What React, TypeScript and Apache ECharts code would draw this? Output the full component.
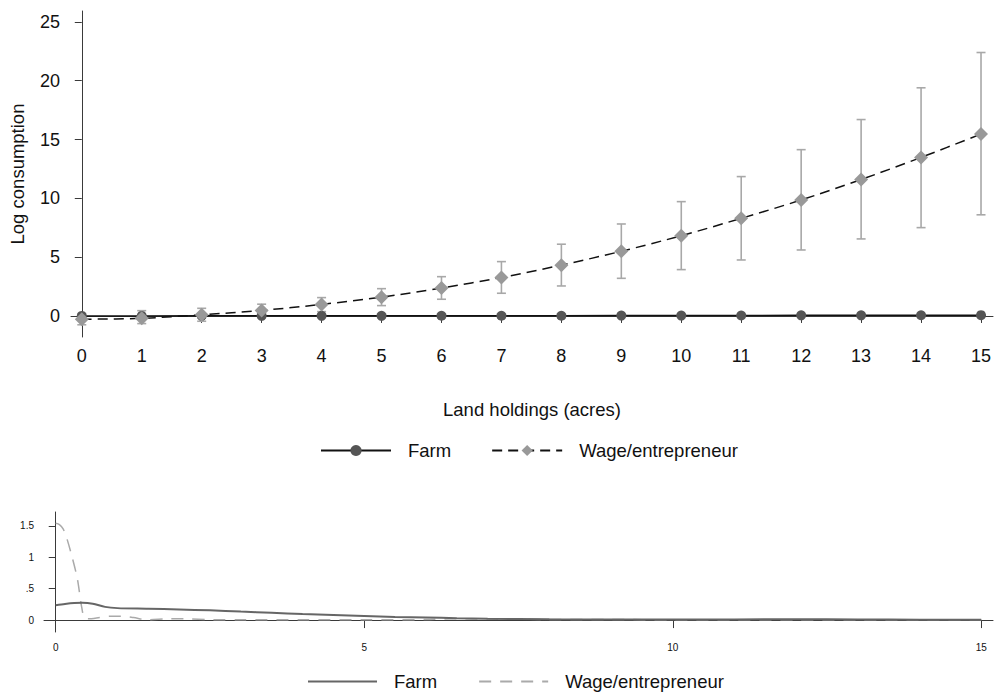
import React, { useEffect, useRef } from "react";
import * as echarts from "echarts";

const FONT = '"Liberation Sans", Arial, Helvetica, sans-serif';

// Top panel: marginal effects by land holdings
const acres = [0, 1, 2, 3, 4, 5, 6, 7, 8, 9, 10, 11, 12, 13, 14, 15];
const farmEffect = [0, 0, 0.01, 0.01, 0.01, 0.01, 0.02, 0.02, 0.02, 0.03, 0.03, 0.04, 0.05, 0.05, 0.06, 0.07];
const wageEffect = [-0.28, -0.2, 0.1, 0.47, 0.98, 1.6, 2.38, 3.27, 4.32, 5.5, 6.82, 8.3, 9.86, 11.6, 13.48, 15.47];
const wageLower = [-0.75, -0.65, -0.45, -0.05, 0.37, 0.88, 1.42, 1.93, 2.55, 3.2, 3.94, 4.76, 5.61, 6.55, 7.51, 8.6];
const wageUpper = [0.2, 0.45, 0.65, 1.0, 1.56, 2.32, 3.34, 4.62, 6.1, 7.82, 9.72, 11.85, 14.14, 16.7, 19.4, 22.4];
const yTicksTop = [0, 5, 10, 15, 20, 25];

// Bottom panel: densities of land holdings
const farmDensX = [0, 0.15, 0.3, 0.43, 0.6, 0.8, 1.0, 1.5, 2.0, 2.5, 3.0, 3.5, 4.0, 4.5, 5.0, 5.5, 6.0, 6.5, 7.0, 8.0, 9.0, 10.0, 11.0, 12.0, 13.0, 14.0, 15.0];
const farmDensY = [0.235, 0.255, 0.27, 0.275, 0.26, 0.21, 0.19, 0.18, 0.168, 0.155, 0.135, 0.115, 0.095, 0.08, 0.065, 0.05, 0.04, 0.03, 0.022, 0.012, 0.008, 0.008, 0.01, 0.012, 0.01, 0.006, 0.005];
const wageDensX = [0, 0.06, 0.12, 0.17, 0.25, 0.35, 0.42, 0.47, 0.55, 0.88, 1.09, 1.26, 1.48, 1.85, 2.07, 2.55, 3.0, 4.0, 5.0, 6.0, 6.5, 7.0, 8.0, 9.0, 10.0, 11.0, 12.0, 13.0, 14.0, 15.0];
const wageDensY = [1.54, 1.52, 1.45, 1.33, 1.06, 0.66, 0.21, 0.03, 0.02, 0.06, 0.06, 0.04, 0.005, 0.02, 0.02, 0.005, 0.004, 0.004, 0.004, 0.008, 0.02, 0.015, 0.01, 0.008, 0.006, 0.006, 0.006, 0.005, 0.005, 0.005];
const yTicksBottom = [0, 0.5, 1, 1.5];
const xTicksBottom = [0, 5, 10, 15];

const AXIS_COLOR = "#3a3a3a";

function topOption(): any {
  const farmData = acres.map((a, i) => [a, farmEffect[i]]);
  const wageData = acres.map((a, i) => [a, wageEffect[i]]);
  const ciData = acres.map((a, i) => [a, wageLower[i], wageUpper[i]]);
  return {
    animation: false,
    textStyle: { fontFamily: FONT },
    grid: { left: 71, right: 2, top: 11, bottom: 143 },
    legend: {
      data: ["Farm", "Wage/entrepreneur"],
      left: 315,
      top: 436,
      itemWidth: 70,
      itemHeight: 14,
      itemGap: 40,
      textStyle: { fontFamily: FONT, fontSize: 18.5, color: "#111", padding: [0, 0, 0, 12] },
    },
    xAxis: {
      type: "value",
      min: -0.18,
      max: 15.2,
      name: "Land holdings (acres)",
      nameLocation: "middle",
      nameGap: 63,
      nameTextStyle: { fontFamily: FONT, fontSize: 18.5, color: "#111" },
      axisLine: { lineStyle: { color: AXIS_COLOR, width: 1 } },
      axisTick: { length: 7, lineStyle: { color: AXIS_COLOR }, customValues: acres },
      axisLabel: { fontSize: 18, color: "#111", margin: 10, customValues: acres, fontFamily: FONT },
      splitLine: { show: false },
    },
    yAxis: {
      type: "value",
      min: -1.79,
      max: 25.93,
      name: "Log consumption",
      nameLocation: "middle",
      nameGap: 44,
      nameTextStyle: { fontFamily: FONT, fontSize: 18.5, color: "#111" },
      axisLine: { show: true, lineStyle: { color: AXIS_COLOR, width: 1 } },
      axisTick: { show: true, length: 7, lineStyle: { color: AXIS_COLOR }, customValues: yTicksTop },
      axisLabel: { fontSize: 18, color: "#111", margin: 11, customValues: yTicksTop, fontFamily: FONT },
      splitLine: { show: false },
    },
    series: [
      {
        name: "CI",
        type: "custom",
        z: 2,
        data: ciData,
        renderItem: (params: any, api: any) => {
          const x = api.value(0);
          const lo = api.coord([x, api.value(1)]);
          const hi = api.coord([x, api.value(2)]);
          const hw = 4.5;
          const style = { stroke: "#a8a8a8", lineWidth: 1.6 };
          return {
            type: "group",
            children: [
              { type: "line", shape: { x1: lo[0], y1: lo[1], x2: hi[0], y2: hi[1] }, style },
              { type: "line", shape: { x1: hi[0] - hw, y1: hi[1], x2: hi[0] + hw, y2: hi[1] }, style },
              { type: "line", shape: { x1: lo[0] - hw, y1: lo[1], x2: lo[0] + hw, y2: lo[1] }, style },
            ],
          };
        },
      },
      {
        name: "Farm",
        type: "line",
        z: 3,
        data: farmData,
        symbol: "circle",
        symbolSize: 10,
        showAllSymbol: true,
        lineStyle: { color: "#111", width: 1.5 },
        itemStyle: { color: "#555555" },
      },
      {
        name: "Wage/entrepreneur",
        type: "line",
        z: 4,
        data: wageData,
        smooth: 0.3,
        symbol: "diamond",
        symbolSize: 14,
        showAllSymbol: true,
        lineStyle: { color: "#111", width: 1.5, type: [10, 6] },
        itemStyle: { color: "#999999" },
      },
    ],
  };
}

function bottomOption(): any {
  const farmData = farmDensX.map((x, i) => [x, farmDensY[i]]);
  const wageData = wageDensX.map((x, i) => [x, wageDensY[i]]);
  return {
    animation: false,
    textStyle: { fontFamily: FONT },
    grid: { left: 44, right: 2, top: 32, bottom: 66 },
    legend: {
      data: ["Farm", "Wage/entrepreneur"],
      left: 302,
      top: 187,
      itemWidth: 69,
      itemHeight: 10,
      itemGap: 41,
      itemStyle: { opacity: 0 },
      textStyle: { fontFamily: FONT, fontSize: 18.5, color: "#111", padding: [0, 0, 0, 12] },
    },
    xAxis: {
      type: "value",
      min: -0.19,
      max: 15.19,
      axisLine: { lineStyle: { color: AXIS_COLOR, width: 1 } },
      axisTick: { length: 8, lineStyle: { color: AXIS_COLOR }, customValues: xTicksBottom },
      axisLabel: { fontSize: 10, color: "#111", margin: 10, customValues: xTicksBottom, fontFamily: FONT },
      splitLine: { show: false },
    },
    yAxis: {
      type: "value",
      min: -0.19,
      max: 1.72,
      axisLine: { show: true, lineStyle: { color: AXIS_COLOR, width: 1 } },
      axisTick: { show: true, length: 7, lineStyle: { color: AXIS_COLOR }, customValues: yTicksBottom },
      axisLabel: {
        fontSize: 10,
        color: "#111",
        margin: 10,
        customValues: yTicksBottom,
        fontFamily: FONT,
        formatter: (v: number) => (v === 0 ? "0" : v < 1 ? String(v).replace(/^0/, "") : String(v)),
      },
      splitLine: { show: false },
    },
    series: [
      {
        name: "Farm",
        type: "line",
        data: farmData,
        smooth: 0.3,
        showSymbol: false,
        symbol: "none",
        z: 3,
        lineStyle: { color: "#666666", width: 2 },
        itemStyle: { color: "#666666" },
      },
      {
        name: "Wage/entrepreneur",
        type: "line",
        data: wageData,
        smooth: 0.3,
        showSymbol: false,
        symbol: "none",
        z: 2,
        lineStyle: { color: "#aaaaaa", width: 1.5, type: [12, 9] },
        itemStyle: { color: "#aaaaaa" },
      },
    ],
  };
}

export default function App() {
  const topRef = useRef<HTMLDivElement>(null);
  const botRef = useRef<HTMLDivElement>(null);
  useEffect(() => {
    const c1 = echarts.init(topRef.current!, null, { renderer: "svg" });
    c1.setOption(topOption());
    const c2 = echarts.init(botRef.current!, null, { renderer: "svg" });
    c2.setOption(bottomOption());
    return () => {
      c1.dispose();
      c2.dispose();
    };
  }, []);
  return (
    <div style={{ position: "fixed", left: 0, top: 0, width: 995, height: 698, background: "#fff" }}>
      <div ref={topRef} style={{ position: "absolute", left: 0, top: 0, width: 995, height: 480 }} />
      <div ref={botRef} style={{ position: "absolute", left: 0, top: 480, width: 995, height: 218 }} />
    </div>
  );
}
